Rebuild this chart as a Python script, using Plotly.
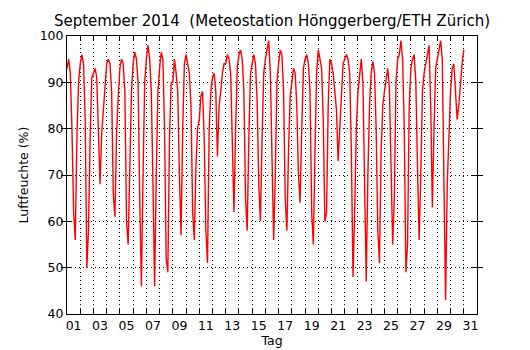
import plotly.graph_objects as go

# Relative humidity (%), 3-hourly samples (00,03,...,21 h) per day, Sept 1..30
steps_per_day = 8
humidity = [
    93, 95, 92, 80, 62, 56, 78, 90,      # 01
    94, 96, 94, 82, 50, 58, 78, 91,      # 02
    92, 93, 91, 80, 68, 79, 84, 90,      # 03
    94, 95, 94, 88, 66, 61, 79, 87,      # 04
    93, 95, 94, 88, 60, 55, 75, 88,      # 05
    94, 96.5, 95, 90, 65, 46, 70, 90,    # 06
    95, 98, 95, 88, 68, 46, 70, 88,      # 07
    93, 96.5, 95, 80, 52, 49, 78, 90,    # 08
    90, 95, 92, 88, 70, 57, 80, 94,      # 09
    96, 94, 92, 85, 62, 56, 72, 80,      # 10
    82, 87, 88, 78, 58, 51, 80, 88,      # 11
    91, 92, 88, 74, 85, 88, 92, 94,      # 12
    94, 96, 95, 92, 75, 62, 80, 93,      # 13
    96, 97, 95, 88, 65, 58, 78, 92,      # 14
    94, 96, 94, 86, 68, 60, 78, 92,      # 15
    95, 97, 99, 92, 70, 56, 70, 90,      # 16
    94, 97, 96, 88, 65, 58, 75, 87,      # 17
    90, 93, 92, 85, 70, 64, 80, 93,      # 18
    95, 96, 94, 88, 62, 55, 75, 92,      # 19
    97, 95, 93, 82, 60, 62, 85, 95,      # 20
    94, 92, 88, 84, 73, 80, 90, 94,      # 21
    95, 96, 95, 92, 75, 48, 62, 80,      # 22
    88, 92, 95, 90, 65, 47, 70, 85,      # 23
    92, 94.5, 92, 80, 58, 51, 75, 85,    # 24
    88, 91, 93, 89, 75, 55, 65, 90,      # 25
    95, 96, 99, 95, 80, 49, 55, 85,      # 26
    93, 95, 96, 90, 72, 56, 70, 88,      # 27
    92, 94, 96, 98, 85, 63, 80, 93,      # 28
    95, 97, 99, 95, 70, 43, 68, 80,      # 29
    88, 93, 94, 88, 82, 85, 90, 94,      # 30
    97,
]
# day-of-month position of each sample (1.0 = Sept 1, 00:00)
day_pos = [1 + i / steps_per_day for i in range(len(humidity))]

tick_labels = ["01", "03", "05", "07", "09", "11", "13", "15",
               "17", "19", "21", "23", "25", "27", "29", "31"]
label_pos = [int(s) + 0.5 for s in tick_labels]
day_grid = list(range(2, 32))
y_ticks = [40, 50, 60, 70, 80, 90, 100]

FONT = "DejaVu Sans"

fig = go.Figure()
# invisible helper so the grid/tick axis is drawn
fig.add_trace(go.Scatter(x=[None], y=[None], mode="lines", xaxis="x2", yaxis="y",
                         showlegend=False, hoverinfo="skip"))
fig.add_trace(go.Scatter(x=day_pos, y=humidity, mode="lines",
                         line=dict(color="#ff0000", width=1.4),
                         xaxis="x", yaxis="y", showlegend=False))

fig.update_layout(
    width=530, height=350,
    margin=dict(l=67, r=53, t=36, b=36),
    paper_bgcolor="white", plot_bgcolor="white",
    font=dict(family=FONT, size=12, color="#000"),
    title=dict(text="September 2014  (Meteostation Hönggerberg/ETH Zürich)",
               x=0.5133, xanchor="center", y=1 - 21 / 350, yanchor="middle",
               yref="container", font=dict(family=FONT, size=15, color="#000")),
    xaxis=dict(range=[1, 32], tickmode="array", tickvals=label_pos, ticktext=tick_labels,
               ticks="", showgrid=False, showline=False, zeroline=False, automargin=False,
               tickfont=dict(size=12.5), ticklabelstandoff=2,
               title=dict(text="Tag", font=dict(size=12.5), standoff=2)),
    xaxis2=dict(range=[1, 32], overlaying="x", side="bottom", tickmode="array",
                tickvals=day_grid, showticklabels=False, ticks="inside", ticklen=5,
                tickcolor="#000", showgrid=True, gridcolor="#111", gridwidth=1,
                griddash="1px,3px", showline=True, linecolor="#000", linewidth=1,
                mirror="allticks", zeroline=False, automargin=False),
    yaxis=dict(range=[40, 100], tickmode="array", tickvals=y_ticks,
               ticks="inside", ticklen=5, tickcolor="#000", automargin=False,
               showgrid=True, gridcolor="#111", gridwidth=1, griddash="1px,3px",
               showline=True, linecolor="#000", linewidth=1, mirror="allticks",
               zeroline=False, tickfont=dict(size=12.5),
               title=dict(text="Luftfeuchte (%)", font=dict(size=12.5), standoff=8)),
)

fig.write_html("out.html")
